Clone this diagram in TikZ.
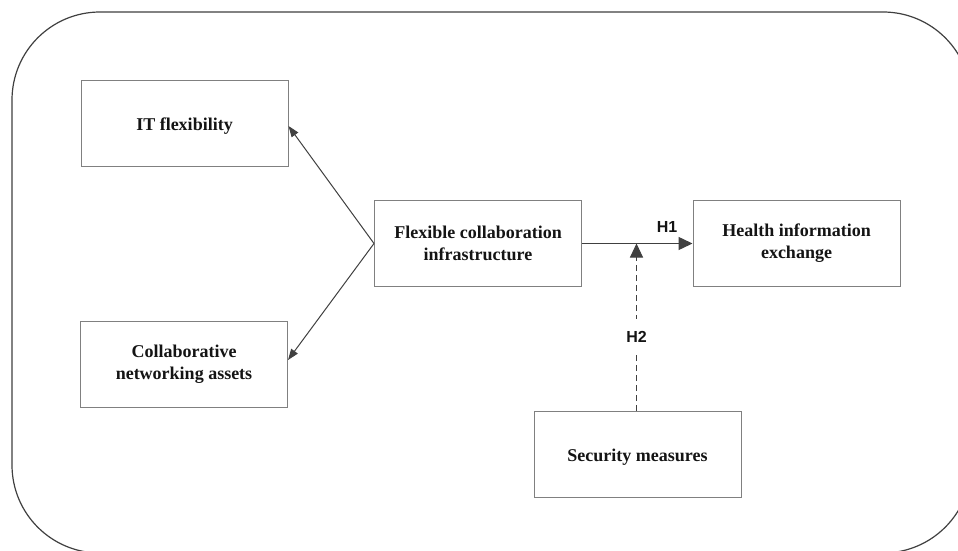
\documentclass[tikz,border=0pt]{standalone}
\usepackage{fontspec}
\setmainfont{Liberation Serif}
\newfontfamily\labelfont{Liberation Sans}
\usetikzlibrary{arrows.meta}
\definecolor{edgegray}{HTML}{808080}
\definecolor{darkline}{HTML}{404040}
\definecolor{textblack}{HTML}{141414}
\tikzset{
  box/.style={draw=edgegray, line width=1pt, minimum width=207pt, minimum height=86pt,
    inner sep=0pt, align=center, text=textblack,
    font=\fontsize{18}{22}\selectfont\bfseries},
  onelinebox/.style={box, text height=14pt, text depth=0pt},
  thinarr/.style={draw=darkline, line width=1pt, -{Triangle[length=11pt,width=8pt]}},
  hyparr/.style={draw=darkline, line width=1.4pt, -{Triangle[length=14pt,width=13pt]}},
  hlabel/.style={text=textblack, font=\labelfont\fontsize{16}{19}\selectfont\bfseries},
  outerframe/.style={draw=darkline, line width=1.2pt, rounded corners=88pt}
}
\begin{document}
\begin{tikzpicture}[x=1pt,y=-1pt]
\clip (0,0) rectangle (958,551);
\fill[white] (0,0) rectangle (958,551);
\draw[outerframe] (12,12) rectangle (971,553);

\node[onelinebox] (it) at (184.5,123.5) {IT flexibility};
\node[box] (ca) at (184,364.5) {Collaborative\\networking assets};
\node[box] (fci) at (478,243.5) {Flexible collaboration\\infrastructure};
\node[box] (hie) at (796.5,243.5) {Health information\\exchange};
\node[onelinebox] (sm) at (637.5,454) {Security measures};

\draw[thinarr] (fci.west) -- ([yshift=-2.5pt]it.east);
\draw[thinarr] (fci.west) -- ([yshift=4.5pt]ca.east);

\draw[hyparr] (fci.east) -- (hie.west);
\node[hlabel] (h1) at (667,227) {H1};

\coordinate (h2top) at ([xshift=-1pt]sm.north |- fci.east);
\draw[hyparr, line width=1pt, dash pattern=on 6pt off 4pt] ([xshift=-1pt]sm.north) -- (h2top)
  node[pos=0.44, fill=white, inner ysep=12pt, inner xsep=2pt, hlabel] (h2) {H2};
\end{tikzpicture}
\end{document}
